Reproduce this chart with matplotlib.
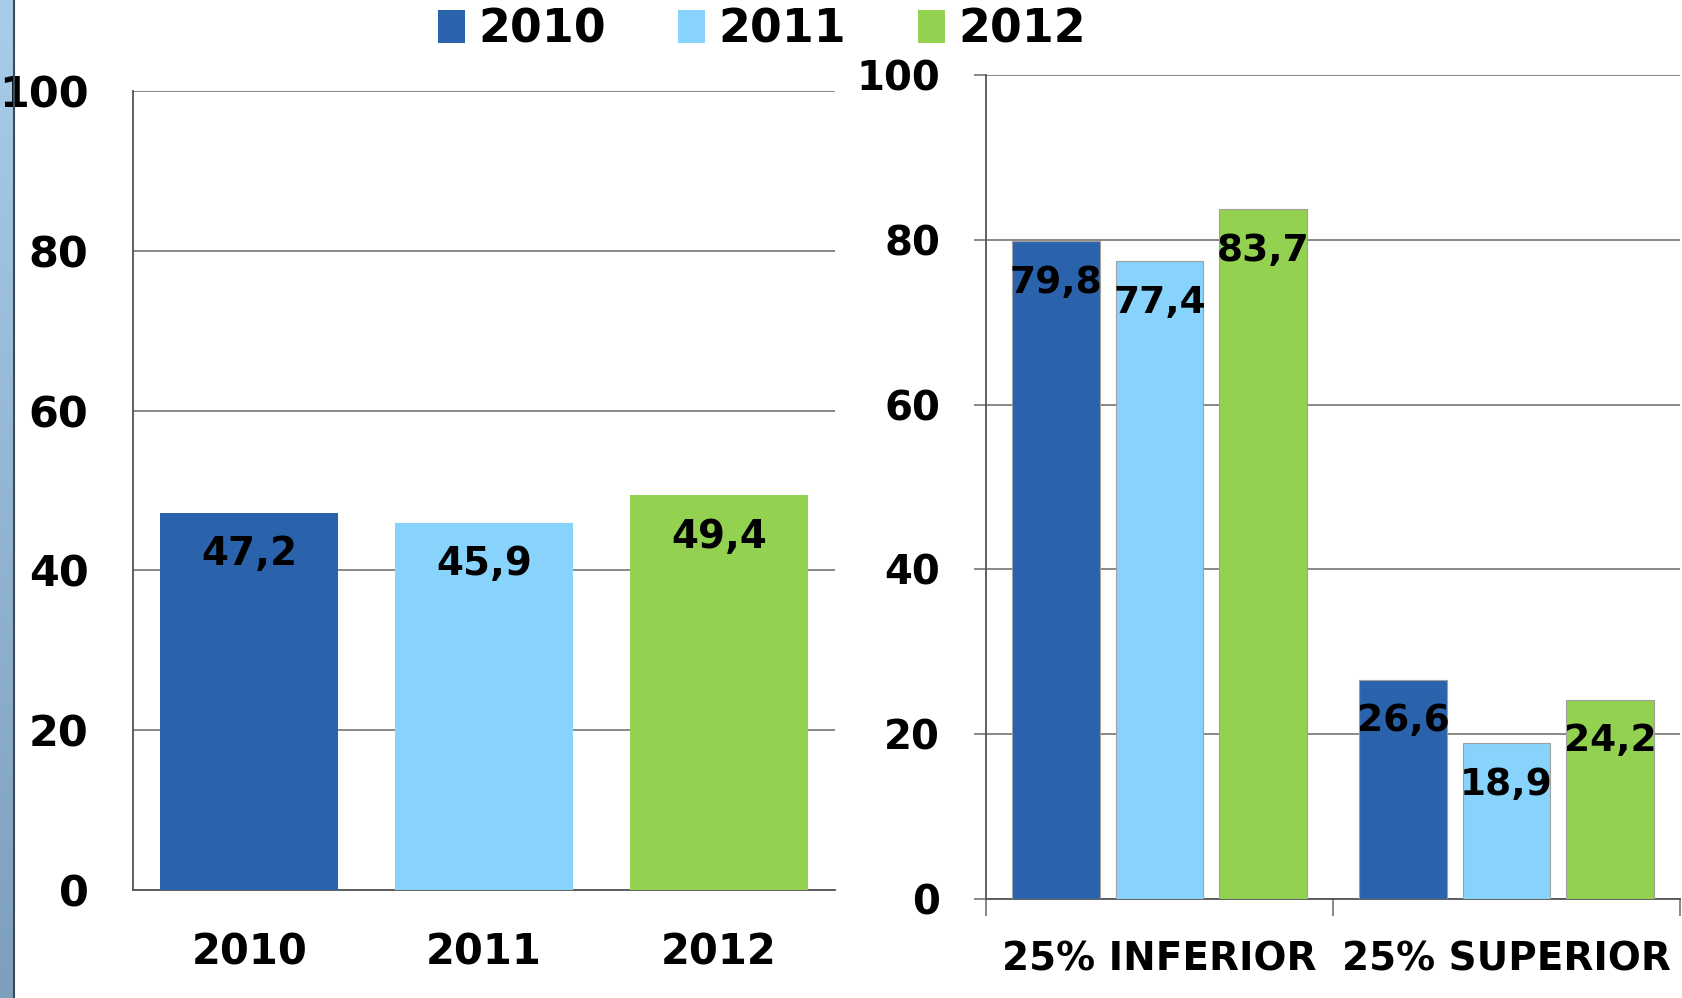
import numpy as np
import matplotlib
matplotlib.use("Agg")
from matplotlib import pyplot as plt
from matplotlib.patches import Patch

# datos
years = ["2010", "2011", "2012"]
total = [47.2, 45.9, 49.4]
groups = ["25% INFERIOR", "25% SUPERIOR"]
inferior = [79.8, 77.4, 83.7]
superior = [26.6, 18.9, 24.2]
yticks = [0, 20, 40, 60, 80, 100]

colors = ["#2A63AC", "#87D3FB", "#93D150"]
grid_c = "#7F7F7F"

plt.rcParams['font.family'] = ['DejaVu Sans']
plt.rcParams['font.weight'] = 'bold'

fig = plt.figure(figsize=(16.82, 9.98), dpi=100)

# franja azul de la izquierda
strip = fig.add_axes([0, 0, 13 / 1682, 1])
grad = np.linspace(0, 1, 256).reshape(-1, 1)
strip.imshow(grad, aspect='auto', cmap=matplotlib.colors.LinearSegmentedColormap.from_list(
    "s", ["#A9CCE8", "#7D9FBB"]), extent=[0, 1, 0, 1])
strip.axis('off')
fig.add_artist(plt.Line2D([13.5 / 1682, 13.5 / 1682], [0, 1], color="#3A4A5A", lw=1.5))

# panel izquierdo
ax1 = fig.add_axes([133 / 1682, 1 - 890 / 998, 702 / 1682, 799 / 998])
x1 = np.arange(len(years))
ax1.bar(x1, total, width=0.76, color=colors, zorder=3)
ax1.set_xlim(-0.495, 2.495)
ax1.set_ylim(0, 100)
ax1.set_yticks(yticks)
ax1.set_xticks(x1, years)
ax1.yaxis.grid(True, color=grid_c, lw=1.3, zorder=0)
ax1.tick_params(axis='y', length=0, pad=32, labelsize=31)
ax1.tick_params(axis='x', length=0, pad=30, labelsize=30)
for s in ["top", "right"]:
    ax1.spines[s].set_visible(False)
for s in ["left", "bottom"]:
    ax1.spines[s].set_color("#555555")
    ax1.spines[s].set_linewidth(1.3)
for xi, v in zip(x1, total):
    ax1.annotate(f"{v:.1f}".replace(".", ","), (xi, v), xytext=(0, -16),
                 textcoords='offset points', ha='center', va='top', fontsize=28, zorder=4)

# panel derecho
ax2 = fig.add_axes([986 / 1682, 1 - 899 / 998, 694 / 1682, 824 / 998])
x2 = np.arange(len(groups))
series = list(zip(inferior, superior))
offsets = [-0.298, 0, 0.298]
for i, (yr, off) in enumerate(zip(years, offsets)):
    vals = series[i]
    ax2.bar(x2 + off, vals, width=0.252, color=colors[i], edgecolor="#A0A0A0",
            linewidth=0.8, zorder=3, label=yr)
    for xi, v in zip(x2, vals):
        ax2.annotate(f"{v:.1f}".replace(".", ","), (xi + off, v), xytext=(0, -17),
                     textcoords='offset points', ha='center', va='top', fontsize=27, zorder=4)
ax2.set_xlim(-0.5, 1.5)
ax2.set_ylim(0, 100)
ax2.set_yticks(yticks)
ax2.set_xticks([-0.5, 0.5, 1.5])
ax2.set_xticklabels([])
ax2.set_xticks(x2, minor=True)
ax2.set_xticklabels(groups, minor=True, fontsize=28)
ax2.yaxis.grid(True, color=grid_c, lw=1.3, zorder=0)
ax2.tick_params(axis='y', length=9, width=1.3, color=grid_c, pad=24, labelsize=29)
ax2.tick_params(axis='x', which='major', length=12, width=1.3, color=grid_c)
ax2.tick_params(axis='x', which='minor', length=0, pad=30)
for s in ["top", "right"]:
    ax2.spines[s].set_visible(False)
for s in ["left", "bottom"]:
    ax2.spines[s].set_color("#555555")
    ax2.spines[s].set_linewidth(1.3)

# leyenda
handles = [Patch(facecolor=c, label=y) for c, y in zip(colors, years)]
fig.legend(handles=handles, loc='center', bbox_to_anchor=(762 / 1682, 1 - 30 / 998),
           ncol=3, frameon=False, fontsize=33, handlelength=0.6, handleheight=0.75,
           handletextpad=0.3, columnspacing=1.55)

fig.savefig("out.png", dpi=100)
